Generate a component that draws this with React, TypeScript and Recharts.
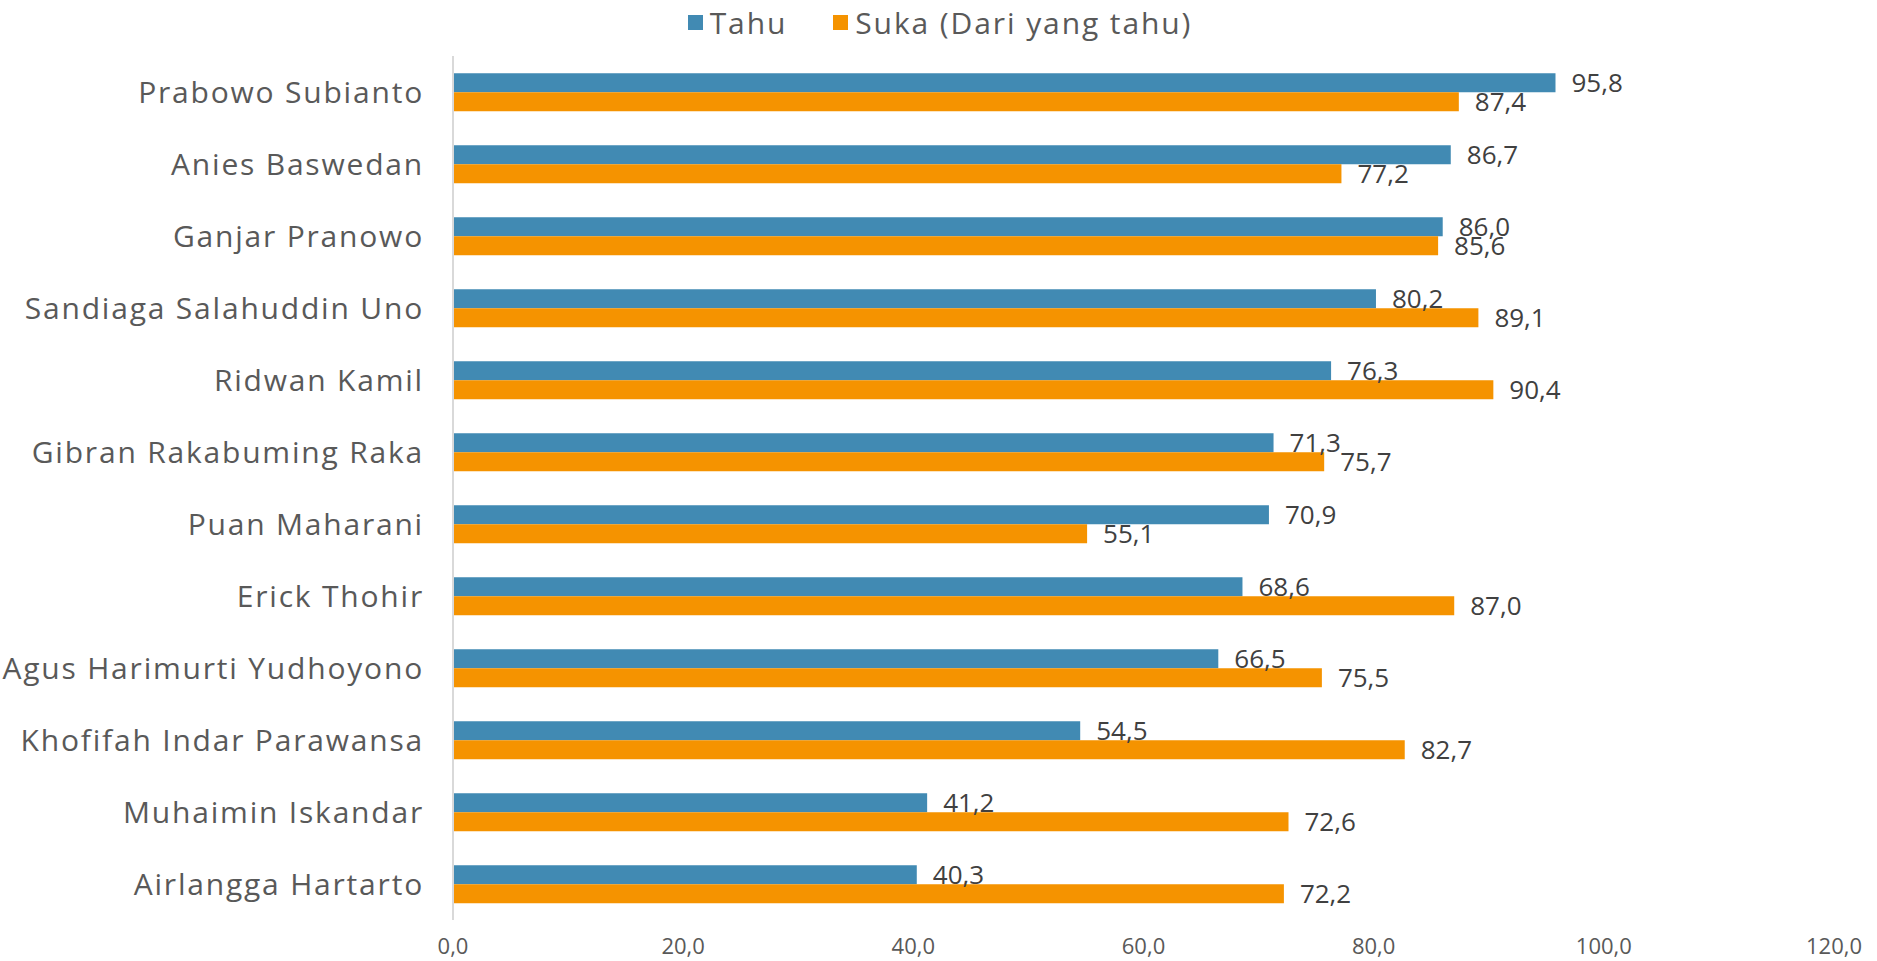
import React from 'react';
import { BarChart, Bar, XAxis, YAxis, Legend, LabelList } from 'recharts';

const names = [
  'Prabowo Subianto',
  'Anies Baswedan',
  'Ganjar Pranowo',
  'Sandiaga Salahuddin Uno',
  'Ridwan Kamil',
  'Gibran Rakabuming Raka',
  'Puan Maharani',
  'Erick Thohir',
  'Agus Harimurti Yudhoyono',
  'Khofifah Indar Parawansa',
  'Muhaimin Iskandar',
  'Airlangga Hartarto',
];
const tahu = [95.8, 86.7, 86.0, 80.2, 76.3, 71.3, 70.9, 68.6, 66.5, 54.5, 41.2, 40.3];
const suka = [87.4, 77.2, 85.6, 89.1, 90.4, 75.7, 55.1, 87.0, 75.5, 82.7, 72.6, 72.2];
const xTicks = [0, 20, 40, 60, 80, 100, 120];

const data = names.map((name, i) => ({ name, tahu: tahu[i], suka: suka[i] }));

const BLUE = '#418AB3';
const ORANGE = '#F59300';
const FONT = '"Open Sans", sans-serif';
const fmt = (v: number) => v.toFixed(1).replace('.', ',');

const LegendBox = () => (
  <div style={{ height: 44, display: 'flex', justifyContent: 'center', alignItems: 'center', fontFamily: FONT, fontSize: 30, letterSpacing: 1.9, color: '#595959', paddingLeft: 46 }}>
    <span style={{ width: 15, height: 15, background: BLUE, display: 'inline-block', marginRight: 7 }} />
    <span style={{ marginRight: 46 }}>Tahu</span>
    <span style={{ width: 15, height: 15, background: ORANGE, display: 'inline-block', marginRight: 7 }} />
    <span>Suka (Dari yang tahu)</span>
  </div>
);

export default function App() {
  return (
    <div>
      <style>{`body{margin:0}`}</style>
      <BarChart
        width={1877}
        height={961}
        data={data}
        layout="vertical"
        margin={{ top: 12, right: 43, bottom: 0, left: 0 }}
        barCategoryGap="24%"
        barGap={0}
      >
        <Legend verticalAlign="top" content={<LegendBox />} wrapperStyle={{ top: 0 }} />
        <XAxis
          type="number"
          domain={[0, 120]}
          ticks={xTicks}
          tickFormatter={fmt}
          axisLine={false}
          tickLine={false}
          tickSize={0}
          tickMargin={18}
          height={41}
          tick={{ fill: '#595959', fontSize: 22, fontFamily: FONT }}
          interval={0}
        />
        <YAxis
          type="category"
          dataKey="name"
          width={453}
          axisLine={{ stroke: '#D9D9D9', strokeWidth: 2 }}
          tickLine={false}
          tickSize={0}
          tickMargin={29}
          interval={0}
          tick={{ fill: '#595959', fontSize: 30, fontFamily: FONT, letterSpacing: 1.8 }}
        />
        <Bar dataKey="tahu" name="Tahu" fill={BLUE} isAnimationActive={false}>
          <LabelList dataKey="tahu" position="right" offset={16} formatter={(v: any) => fmt(Number(v))} style={{ fill: '#404040', fontSize: 26, fontFamily: FONT }} />
        </Bar>
        <Bar dataKey="suka" name="Suka (Dari yang tahu)" fill={ORANGE} isAnimationActive={false}>
          <LabelList dataKey="suka" position="right" offset={16} formatter={(v: any) => fmt(Number(v))} style={{ fill: '#404040', fontSize: 26, fontFamily: FONT }} />
        </Bar>
      </BarChart>
    </div>
  );
}
